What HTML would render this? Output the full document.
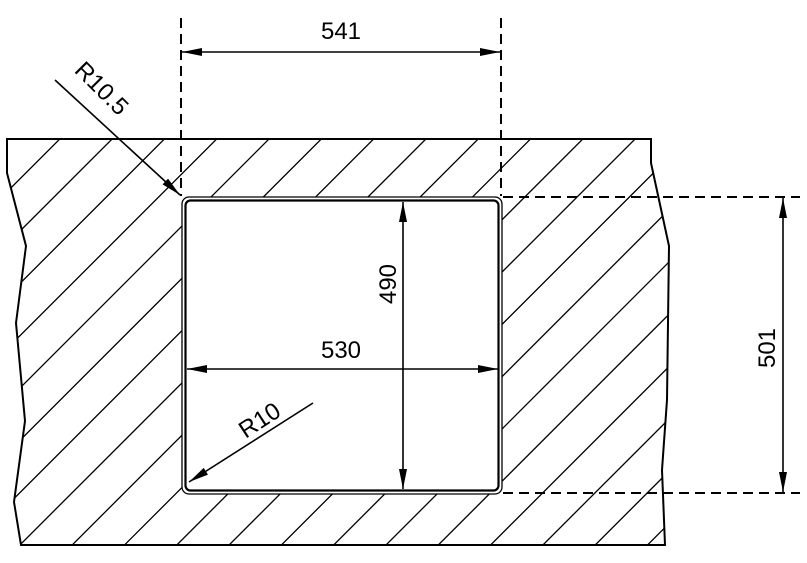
<!DOCTYPE html>
<html><head><meta charset="utf-8"><style>html,body{margin:0;padding:0;background:#fff;width:807px;height:563px;overflow:hidden}svg{display:block}</style></head>
<body>
<svg width="807" height="563" viewBox="0 0 807 563" xmlns="http://www.w3.org/2000/svg" font-family="Liberation Sans, sans-serif">
<defs>
<clipPath id="plate"><polygon points="7,139 651,139 651,163 669,246 667,400 662,470 665,545 21,545 14,502 25,421 16,323 26,246 7,173"/></clipPath>
<marker id="a" viewBox="0 0 20 8" refX="20" refY="4" markerWidth="20" markerHeight="8" markerUnits="userSpaceOnUse" orient="auto-start-reverse"><path d="M0,0 L20,4 L0,8 z" fill="#000"/></marker>
</defs>
<g clip-path="url(#plate)" stroke="#000" stroke-width="1.3">
<path d="M-300,185 l700,-700 M-300,237.3 l700,-700 M-300,289.6 l700,-700 M-300,341.9 l700,-700 M-300,394.2 l700,-700 M-300,446.5 l700,-700 M-300,498.8 l700,-700 M-300,551.1 l700,-700 M-300,603.4 l900,-900 M-300,655.7 l900,-900 M-300,708 l900,-900 M-300,760.3 l1000,-1000 M-300,812.6 l1000,-1000 M-300,864.9 l1000,-1000 M-300,917.2 l1100,-1100 M-300,969.5 l1100,-1100 M-300,1021.8 l1100,-1100 M-300,1074.1 l1200,-1200 M-300,1126.4 l1200,-1200 M-300,1178.7 l1200,-1200 M-300,1231 l1300,-1300 M-300,1283.3 l1300,-1300 M-300,1335.6 l1300,-1300 M-300,1387.9 l1300,-1300 M-300,1440.2 l1400,-1400 M-300,1492.5 l1400,-1400"/>
</g>
<polygon points="7,139 651,139 651,163 669,246 667,400 662,470 665,545 21,545 14,502 25,421 16,323 26,246 7,173" fill="none" stroke="#000" stroke-width="2"/>
<rect x="182" y="197" width="320" height="297" rx="7" fill="#fff" stroke="#000" stroke-width="1.3"/>
<rect x="185.5" y="200.5" width="313" height="290" rx="5" fill="none" stroke="#000" stroke-width="2.2"/>
<g stroke="#000" stroke-width="2" stroke-dasharray="10,6" fill="none">
<path d="M181,18 V196 M501,18 V196"/>
<path d="M503,197 H800 M503,493 H800"/>
</g>
<g stroke="#000" stroke-width="1.6" fill="none">
<path d="M182,52 H500" marker-start="url(#a)" marker-end="url(#a)"/>
<path d="M783,198 V492" marker-start="url(#a)" marker-end="url(#a)"/>
<path d="M403,202 V489" marker-start="url(#a)" marker-end="url(#a)"/>
<path d="M187,369 H498" marker-start="url(#a)" marker-end="url(#a)"/>
<path d="M55,80 L180,195" marker-end="url(#a)"/>
<path d="M313,403 L189,482" marker-end="url(#a)"/>
</g>
<g font-size="24" fill="#000" text-anchor="middle">
<text x="341" y="39">541</text>
<text x="341" y="358">530</text>
<text transform="translate(396,284) rotate(-90)">490</text>
<text transform="translate(775,348) rotate(-90)">501</text>
<text transform="translate(96,94) rotate(45)">R10.5</text>
<text transform="translate(264,427) rotate(-33)">R10</text>
</g>
</svg>
</body></html>
